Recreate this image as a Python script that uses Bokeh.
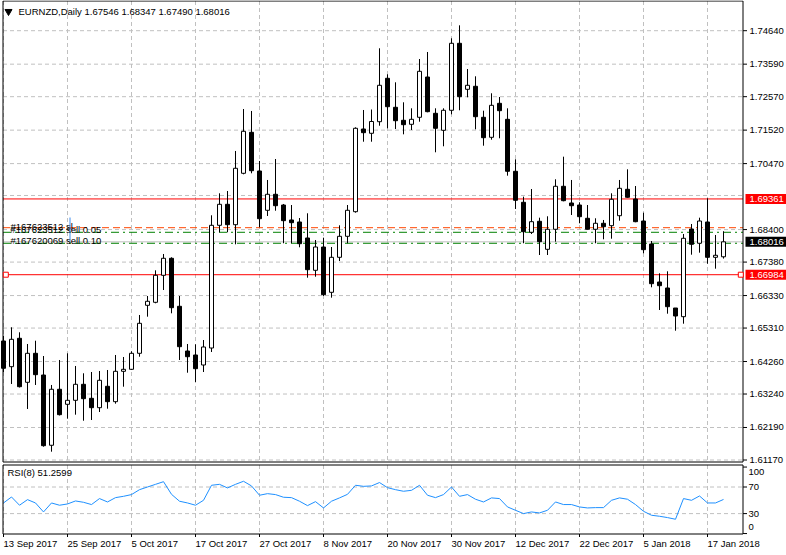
from bokeh.plotting import figure
from bokeh.models import Range1d, ColumnDataSource
from bokeh.core.properties import value
from bokeh.embed import file_html
from bokeh.resources import INLINE

# ---------------- data ----------------
symbol = "EURNZD,Daily"
date_labels = ["13 Sep 2017", "25 Sep 2017", "5 Oct 2017", "17 Oct 2017", "27 Oct 2017",
               "8 Nov 2017", "20 Nov 2017", "30 Nov 2017", "12 Dec 2017", "22 Dec 2017",
               "5 Jan 2018", "17 Jan 2018"]
date_bars = [0, 8, 16, 24, 32, 40, 48, 56, 64, 72, 80, 88]

opens = [1.64904, 1.64098, 1.64989, 1.63608, 1.64518, 1.63837, 1.61632, 1.63389, 1.62918, 1.63043,
         1.63545, 1.63106, 1.62811, 1.63483, 1.63000, 1.63953, 1.64016, 1.64518, 1.66024, 1.66118,
         1.66965, 1.67499, 1.65993, 1.64590, 1.64465, 1.64151, 1.64684, 1.68534, 1.69193, 1.68553,
         1.70166, 1.71452, 1.70238, 1.69005, 1.69507, 1.69171, 1.68701, 1.68638, 1.68136, 1.67122,
         1.67853, 1.66432, 1.67530, 1.68189, 1.68961, 1.71556, 1.71421, 1.71785, 1.73147, 1.72237,
         1.71829, 1.71703, 1.71923, 1.73187, 1.72048, 1.71515, 1.72143, 1.74245, 1.72801, 1.72896,
         1.71923, 1.71295, 1.72362, 1.71860, 1.70229, 1.69256, 1.68315, 1.68660, 1.67781, 1.68409,
         1.69758, 1.69234, 1.69171, 1.68754, 1.68409, 1.68597, 1.68522, 1.68835, 1.69664, 1.69359,
         1.68669, 1.67948, 1.66755, 1.66567, 1.65939, 1.65667, 1.68418, 1.67970, 1.68638, 1.67530,
         1.67546]
highs = [1.65061, 1.65334, 1.65177, 1.64810, 1.64913, 1.64433, 1.63524, 1.64308, 1.64518, 1.64120,
         1.63891, 1.63931, 1.63963, 1.63994, 1.64465, 1.64402, 1.64581, 1.65720, 1.66316, 1.67122,
         1.67634, 1.67530, 1.66316, 1.64810, 1.64800, 1.64935, 1.68848, 1.69538, 1.69610, 1.70866,
         1.72183, 1.72121, 1.70552, 1.69956, 1.70614, 1.69203, 1.69171, 1.68763, 1.68911, 1.68073,
         1.68145, 1.67853, 1.68534, 1.69171, 1.71609, 1.72152, 1.72168, 1.74088, 1.73272, 1.73021,
         1.72394, 1.72205, 1.73752, 1.73972, 1.72205, 1.72205, 1.74402, 1.74809, 1.73438, 1.73209,
         1.72130, 1.72676, 1.72560, 1.72205, 1.70605, 1.69432, 1.69673, 1.68773, 1.68817, 1.69978,
         1.70687, 1.69956, 1.69256, 1.69171, 1.68754, 1.68701, 1.69538, 1.69956, 1.70291, 1.69767,
         1.68930, 1.68042, 1.67028, 1.67091, 1.65939, 1.68261, 1.68575, 1.68773, 1.69381, 1.68230,
         1.68347]
lows = [1.63931, 1.63555, 1.63445, 1.62771, 1.63524, 1.61588, 1.61431, 1.62567, 1.62466, 1.62592,
        1.62403, 1.62425, 1.62676, 1.62780, 1.62937, 1.63470, 1.63994, 1.64411, 1.65667, 1.66087,
        1.66504, 1.65773, 1.64308, 1.63909, 1.63618, 1.63931, 1.64559, 1.68315, 1.68315, 1.67938,
        1.70134, 1.70166, 1.68472, 1.68826, 1.68992, 1.67970, 1.67970, 1.67844, 1.66890, 1.66921,
        1.66316, 1.66263, 1.67414, 1.67970, 1.68930, 1.71157, 1.71157, 1.71659, 1.71578, 1.71556,
        1.71389, 1.71524, 1.71785, 1.72080, 1.70825, 1.71013, 1.72017, 1.72143, 1.72550, 1.71546,
        1.71032, 1.71220, 1.71264, 1.70091, 1.69046, 1.67970, 1.68261, 1.67602, 1.67602, 1.68020,
        1.69287, 1.68857, 1.68597, 1.68409, 1.67970, 1.68095, 1.68114, 1.68679, 1.69400, 1.68630,
        1.67656, 1.66589, 1.65877, 1.65761, 1.65227, 1.65447, 1.67612, 1.67675, 1.67329, 1.67173,
        1.67490]
closes = [1.64048, 1.64957, 1.63470, 1.64518, 1.63847, 1.61619, 1.63389, 1.62592, 1.63043, 1.63545,
          1.63094, 1.62811, 1.63671, 1.63000, 1.63953, 1.64016, 1.64518, 1.65459, 1.66150, 1.66965,
          1.67499, 1.65949, 1.64725, 1.64411, 1.64035, 1.64716, 1.68534, 1.69193, 1.68553, 1.70323,
          1.71484, 1.70247, 1.68741, 1.69507, 1.69149, 1.68679, 1.68616, 1.67957, 1.67141, 1.67853,
          1.66357, 1.67530, 1.68189, 1.69005, 1.71578, 1.71440, 1.71791, 1.72927, 1.72255, 1.71816,
          1.71691, 1.71860, 1.73366, 1.72099, 1.71578, 1.72143, 1.74245, 1.72569, 1.72927, 1.71942,
          1.71283, 1.72299, 1.72130, 1.70229, 1.69319, 1.68333, 1.68647, 1.68020, 1.68409, 1.69758,
          1.69306, 1.69149, 1.68804, 1.68409, 1.68597, 1.68490, 1.69350, 1.69695, 1.69413, 1.68647,
          1.67769, 1.66702, 1.66639, 1.65980, 1.65688, 1.68126, 1.67938, 1.68669, 1.67530, 1.67593,
          1.68016]
rsi = [46, 55, 42.6, 51, 46, 32.5, 46, 42.6, 44.5, 49,
       47, 43.6, 52.6, 47.5, 54, 56, 58.6, 66, 70, 74,
       78, 59, 48.6, 46, 42.6, 50, 72.6, 74, 68.6, 74,
       78.6, 71.6, 57.6, 60, 58.6, 54.6, 54, 48.6, 42, 48,
       38.5, 48.6, 53.6, 59, 72.6, 71, 71.6, 76.7, 69, 66,
       63.6, 65, 72.6, 57.6, 54, 58.6, 70, 56, 58.6, 51.6,
       47.5, 53.6, 52.6, 40, 35, 30, 32.5, 31, 35, 47.5,
       43.6, 43.6, 40, 38.5, 39, 39, 50, 53.6, 51.6, 43.6,
       33.5, 27.5, 26, 24, 21.5, 52.6, 50, 56.5, 46, 46,
       51.2599]
rsi_value_text = "51.2599"

price_ticks = [1.61170, 1.62190, 1.63240, 1.64260, 1.65310, 1.66330, 1.67380, 1.68400,
               1.70470, 1.71520, 1.72570, 1.73590, 1.74640]
grid_only_tick = 1.69470
rsi_ticks = [0, 30, 70, 100]
rsi_grid = [30, 70]

red_hi = 1.69361
red_lo = 1.66984
bid = 1.68016
sl_level = 1.68459
sell005_level = 1.68315
sell010_level = 1.67970
order_texts = ["#167623512 sl", "#167623512 sell 0.05", "#167620069 sell 0.10"]

# ---------------- geometry / style ----------------
W, H = 786, 555
BAR_PX, BAR0_PX = 8.0, 3.0
CAL_PRICE, CAL_PX, PX_PER_PRICE = 1.7464, 30.2, 3187.1
CAL_RSI, CAL_RSI_PX, PX_PER_RSI = 70.0, 486.5, 0.665
LEFT, AXIS = 2.5, 742.5
MAIN_T, MAIN_B = 0.5, 461.5
RSI_T, RSI_B = 464.5, 533.5
FONT = "Liberation Sans"
FS = "9.5px"
GRID = "#C0C0C0"


def X(px):
    return (px - BAR0_PX) / BAR_PX


def Y(px):
    return CAL_PRICE - (px - CAL_PX) / PX_PER_PRICE


def RY(px):
    return CAL_RSI - (px - CAL_RSI_PX) / PX_PER_RSI


def dP(px):
    return px / PX_PER_PRICE


def txt(xs_, ys_, texts, color="black", align="left", baseline="middle", rng="default"):
    p.text(x=xs_, y=ys_, text=texts, text_font=value(FONT), text_font_size=value(FS),
           text_color=color, text_align=align, text_baseline=baseline, y_range_name=rng)


p = figure(width=W, height=H, x_range=Range1d(X(0), X(W)), y_range=Range1d(Y(H), Y(0)),
           output_backend="svg", toolbar_location=None, x_axis_location=None,
           y_axis_location=None, min_border=0, title=None, outline_line_color=None)
p.extra_y_ranges = {"rsi": Range1d(RY(H), RY(0))}
p.grid.visible = False
p.background_fill_color = "white"
p.border_fill_color = "white"

n = len(opens)
xs = list(range(n))

# ---- grids ----
pg = price_ticks + [grid_only_tick]
p.segment(x0=X(LEFT), x1=X(AXIS), y0=pg, y1=pg, line_color=GRID, line_dash="4 3", line_width=1)
p.segment(x0=X(LEFT), x1=X(AXIS), y0=rsi_grid, y1=rsi_grid, line_color=GRID, line_dash="4 3",
          line_width=1, y_range_name="rsi")
p.segment(x0=date_bars, x1=date_bars, y0=Y(MAIN_T), y1=Y(MAIN_B), line_color=GRID,
          line_dash="4 3", line_width=1)
p.segment(x0=date_bars, x1=date_bars, y0=Y(RSI_T), y1=Y(RSI_B), line_color=GRID,
          line_dash="4 3", line_width=1)

# ---- level lines ----
lv_x0, lv_x1 = X(LEFT), X(AXIS)
p.segment(x0=lv_x0, x1=lv_x1, y0=bid, y1=bid, line_color="#C0C0C0", line_width=1)
p.segment(x0=lv_x0, x1=lv_x1, y0=sl_level, y1=sl_level, line_color="#FF4500", line_width=1,
          line_dash="7 4")
p.segment(x0=lv_x0, x1=lv_x1, y0=[sell005_level, sell010_level], y1=[sell005_level, sell010_level],
          line_color="#008000", line_width=1, line_dash="8 4 2 4")
p.segment(x0=lv_x0, x1=lv_x1, y0=[red_hi, red_lo], y1=[red_hi, red_lo], line_color="#FF0000",
          line_width=1)

# ---- candles ----
src = ColumnDataSource(dict(
    x=xs, o=opens, h=highs, l=lows, c=closes,
    top=[max(a, b) for a, b in zip(opens, closes)],
    bottom=[min(a, b) for a, b in zip(opens, closes)],
    fill=["white" if c >= o else "black" for o, c in zip(opens, closes)],
))
p.segment(x0="x", y0="l", x1="x", y1="h", source=src, line_color="black", line_width=1)
p.vbar(x="x", width=0.5, top="top", bottom="bottom", fill_color="fill", line_color="black",
       line_width=1, source=src)

# ---- RSI line ----
p.line(xs, rsi, line_color="#1E90FF", line_width=1, y_range_name="rsi")

# ---- panel borders ----
p.segment(x0=[X(LEFT), X(LEFT), X(AXIS), X(LEFT), X(LEFT), X(LEFT), X(AXIS), X(LEFT)],
          x1=[X(AXIS), X(LEFT), X(AXIS), X(AXIS), X(AXIS), X(LEFT), X(AXIS), X(AXIS)],
          y0=[Y(MAIN_T), Y(MAIN_T), Y(MAIN_T), Y(MAIN_B), Y(RSI_T), Y(RSI_T), Y(RSI_T), Y(RSI_B)],
          y1=[Y(MAIN_T), Y(MAIN_B), Y(MAIN_B), Y(MAIN_B), Y(RSI_T), Y(RSI_B), Y(RSI_B), Y(RSI_B)],
          line_color="black", line_width=1)

# squares at ends of the lower red level
p.scatter([X(5.3), X(740.3)], [red_lo, red_lo], marker="square", size=5,
          fill_color="white", line_color="#FF0000", line_width=1)

# ---- price axis (right) ----
p.segment(x0=X(AXIS), x1=X(AXIS + 4), y0=price_ticks, y1=price_ticks, line_color="black")
txt([X(749)] * len(price_ticks), price_ticks, [f"{t:.5f}" for t in price_ticks])

# price boxes
box_levels = [red_hi, bid, red_lo]
box_colors = ["#FF0000", "black", "#FF0000"]
p.quad(left=X(745), right=X(786), top=[v + dP(5) for v in box_levels],
       bottom=[v - dP(5) for v in box_levels], fill_color=box_colors, line_color=None)
txt([X(749)] * 3, box_levels, [f"{v:.5f}" for v in box_levels], color="white")

# ---- RSI axis ----
p.segment(x0=X(AXIS), x1=X(AXIS + 4), y0=rsi_ticks, y1=rsi_ticks, line_color="black",
          y_range_name="rsi")
rsi_lab_lo, rsi_lab_hi = RY(RSI_B - 7), RY(RSI_T + 7)
txt([X(748)] * len(rsi_ticks), [min(max(t, rsi_lab_lo), rsi_lab_hi) for t in rsi_ticks],
    [str(t) for t in rsi_ticks], rng="rsi")

# ---- date axis ----
p.segment(x0=date_bars, x1=date_bars, y0=Y(RSI_B), y1=Y(RSI_B + 3), line_color="black")
txt(date_bars, [Y(543)] * len(date_bars), date_labels)

# ---- order texts ----
lv = [sl_level, sell005_level, sell010_level]
txt([X(10)] * 3, [v + dP(o) for v, o in zip(lv, [1.5, 2.5, 2.5])], order_texts,
    baseline="alphabetic")
p.segment(x0=X(69.5), x1=X(69.5), y0=Y(217), y1=Y(241), line_color="#3C8CF0", line_width=1)

# ---- header ----
p.scatter([X(8)], [Y(11)], marker="inverted_triangle", size=7, fill_color="black",
          line_color="black")
txt([X(18)], [Y(11)],
    [f"{symbol}  {opens[-1]:.5f} {highs[-1]:.5f} {lows[-1]:.5f} {closes[-1]:.5f}"])
txt([X(7)], [RY(472)], [f"RSI(8) {rsi_value_text}"], rng="rsi")

open("out.html", "w").write(file_html(p, INLINE))
